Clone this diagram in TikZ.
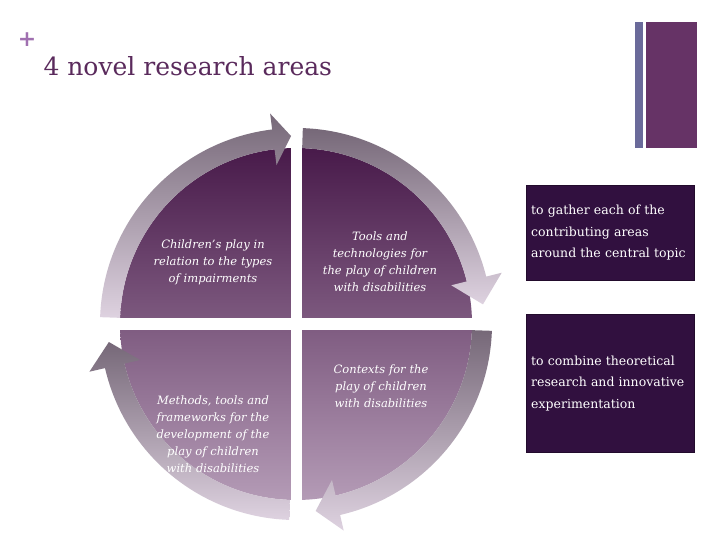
\documentclass[tikz,border=0pt]{standalone}
\usepackage{fontspec}
\setmainfont{DejaVu Serif}
\hyphenpenalty=10000 \exhyphenpenalty=10000
\begin{document}
\begin{tikzpicture}[x=1pt,y=-1pt,
  lbl/.style={text=white,font=\itshape\fontsize{11.5}{17}\selectfont,align=center,text width=122pt},
  boxtxt/.style={fill=boxpurple,draw=boxpurple!70!black,text=white,font=\fontsize{12.5}{21.5}\selectfont,align=left,text width=158pt,inner sep=5pt,anchor=north west}]
\definecolor{boxpurple}{HTML}{31103F}
\definecolor{titlec}{HTML}{5A2A5C}
\definecolor{plusc}{HTML}{A070B0}
\definecolor{barblue}{HTML}{6A6A9A}
\definecolor{barpurple}{HTML}{663366}
\useasboundingbox (0,0) rectangle (720,540);
\fill[white] (0,0) rectangle (720,540);
% title
\node[text=plusc,font=\bfseries\fontsize{22}{22}\selectfont,anchor=center] (plus) at (27,40) {+};
\node[text=titlec,font=\fontsize{25}{28}\selectfont,anchor=west] (title) at (40,66) {4 novel research areas};
% bars
\fill[barblue] (635,22) rectangle (643,148);
\fill[barpurple] (646,22) rectangle (697,148);
% pie
\begin{scope}[shift={(296,324)}]
\shade[top color={rgb,255:red,72;green,26;blue,74},bottom color={rgb,255:red,180;green,155;blue,182}] (0,0) circle[radius=176];
\fill[white] (-200,-6) rectangle (200,6);
\fill[white] (-5.5,-200) rectangle (5.5,200);
% ring arrows
\foreach \a/\b/\t in {-178/-97/-91.5, -88/-14/-6, 2/77/84, 92/167/174.5}{
  \shade[top color={rgb,255:red,118;green,104;blue,120},bottom color={rgb,255:red,222;green,210;blue,224}]
   (\a:196) arc[start angle=\a,end angle=\b,radius=196] -- (\b:212) -- (\t:188) -- (\b:160) -- (\b:176)
   arc[start angle=\b,end angle=\a,radius=176] -- cycle;
}
\end{scope}
\node[lbl] (q1) at (213,262) {Children's play in relation to the types of impairments};
\node[lbl] (q2) at (380,262) {Tools and technologies for the play of children with disabilities};
\node[lbl] (q3) at (381,386) {Contexts for the play of children with disabilities};
\node[lbl] (q4) at (213,434) {Methods, tools and frameworks for the development of the play of children with disabilities};
% boxes
\node[boxtxt,minimum height=95pt] (b1) at (526,185) {to gather each of the contributing areas around the central topic};
\node[boxtxt,minimum height=138pt,anchor=north west] (b2) at (526,314) {to combine theoretical research and innovative experimentation\\[22pt]};
\end{tikzpicture}
\end{document}
